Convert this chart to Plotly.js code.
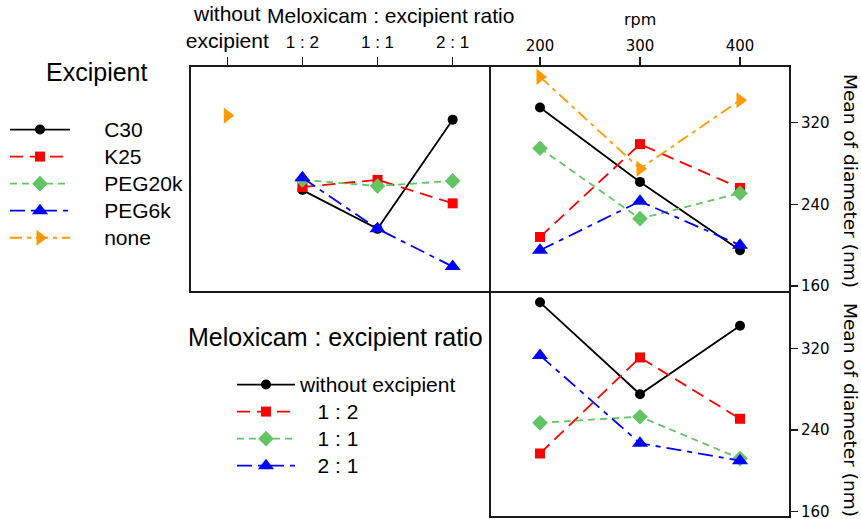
<!DOCTYPE html>
<html><head><meta charset="utf-8">
<script src="https://cdn.plot.ly/plotly-3.0.1.min.js"></script>
<style>html,body{margin:0;padding:0;background:#fff}#chart{width:861px;height:519px}</style>
</head><body><div id="chart"></div>
<script>
// ---- categories / tick labels ----
const ratioCats = ['without excipient', '1 : 2', '1 : 1', '2 : 1'];
const ratioTickText = ['without<br>excipient', '1 : 2', '1 : 1', '2 : 1'];
const rpmVals = [200, 300, 400];
const yTicks = [160, 240, 320];
const excipientNames = ['C30', 'K25', 'PEG20k', 'PEG6k', 'none'];
const ratioNames = ['without excipient', '1 : 2', '1 : 1', '2 : 1'];

// ---- mean diameter (nm) by excipient vs. ratio (top-left) ----
const c30ByRatio = [254, 216, 323];      // 1:2, 1:1, 2:1
const k25ByRatio = [257, 264, 241];
const peg20kByRatio = [264, 258, 263];
const peg6kByRatio = [266, 216, 179];
const noneByRatio = [327];               // without excipient

// ---- mean diameter (nm) by excipient vs. rpm (top-right) ----
const c30ByRpm = [335, 262, 195];
const k25ByRpm = [208, 299, 256];
const peg20kByRpm = [295, 226, 251];
const peg6kByRpm = [195, 243, 200];
const noneByRpm = [365, 275, 342];

// ---- mean diameter (nm) by ratio vs. rpm (bottom-right) ----
const withoutByRpm = [365, 275, 342];
const r12ByRpm = [217, 311, 251];
const r11ByRpm = [247, 253, 212];
const r21ByRpm = [313, 227, 210];

const LW = 1.8;
const sty = [
  {color: '#000000', dash: 'solid',            symbol: 'circle',         size: 10},
  {color: '#ff0000', dash: '13px,7px',         symbol: 'square',         size: 10},
  {color: '#62c462', dash: '7px,5px',          symbol: 'diamond',        size: 12},
  {color: '#0000ff', dash: '15px,6px,5px,6px', symbol: 'triangle-up',    size: 14},
  {color: '#ff9900', dash: '12px,5px,4px,5px', symbol: 'triangle-right', size: 14}
];

const NB = '\u00a0';
function legName(txt, pad) {
  return '<span style="font-size:21px">' + NB.repeat(pad) + txt + '</span>';
}

function tr(name, st, x, y, xa, ya, legend, show, mode) {
  return {
    type: 'scatter', mode: mode || 'lines+markers', name: name, x: x, y: y,
    xaxis: xa, yaxis: ya, legend: legend, showlegend: show,
    line: {color: st.color, width: LW, dash: st.dash},
    marker: {color: st.color, symbol: st.symbol, size: st.size, line: {width: 0}},
    hoverinfo: 'x+y', cliponaxis: false
  };
}

const ratioX = ratioCats.slice(1);
const byRatio = [c30ByRatio, k25ByRatio, peg20kByRatio, peg6kByRatio];
const byRpm = [c30ByRpm, k25ByRpm, peg20kByRpm, peg6kByRpm, noneByRpm];
const ratioByRpm = [withoutByRpm, r12ByRpm, r11ByRpm, r21ByRpm];

const data = [];
byRatio.forEach((v, i) => data.push(tr(legName(excipientNames[i], 5), sty[i], ratioX, v, 'x', 'y', 'legend', true)));
data.push(tr('none', sty[4], [ratioCats[0]], noneByRatio, 'x', 'y', 'legend', false, 'markers'));
byRpm.forEach((v, i) => data.push(tr(legName(excipientNames[i], 5), sty[i], rpmVals, v, 'x2', 'y2', 'legend', i === 4)));
ratioByRpm.forEach((v, i) => data.push(tr(legName(ratioNames[i], i === 0 ? 0 : 3), sty[i], rpmVals, v, 'x3', 'y3', 'legend2', true)));

const AR = 'Liberation Sans, Arial, sans-serif';
const DV = 'DejaVu Sans, Verdana, sans-serif';
const lineC = '#1a1a1a';
const box = {showline: true, mirror: true, linewidth: 2, linecolor: lineC, showgrid: false, zeroline: false, automargin: false};
const W = 861, H = 519;
const px = v => v / W, py = v => 1 - v / H;
const topDom = [py(291), py(66.7)], botDom = [py(515.7), py(293)];
const leftDom = [px(191), px(488.5)], rightDom = [px(490.5), px(789)];
const tickTextStyled = ratioTickText.map((t, i) => i === 0 ? t : '<span style="font-size:17px">' + t + '</span>');
const yTickCommon = {tickvals: yTicks, ticks: 'outside', ticklen: 7, tickwidth: 1.5, tickcolor: lineC,
  tickfont: {family: DV, size: 15, color: '#000'}, ticklabeloverflow: 'allow'};

const layout = {
  width: W, height: H,
  margin: {l: 0, r: 0, t: 0, b: 0},
  paper_bgcolor: '#fff', plot_bgcolor: '#fff',
  showlegend: true,
  xaxis: Object.assign({}, box, {domain: leftDom, anchor: 'y', side: 'top', type: 'category',
    categoryarray: ratioCats, categoryorder: 'array', range: [-0.483, 3.477],
    tickvals: ratioCats, ticktext: tickTextStyled, ticks: 'outside', ticklen: 8, tickwidth: 1.5, tickcolor: lineC,
    tickfont: {family: AR, size: 21, color: '#000'}, ticklabeloverflow: 'allow'}),
  yaxis: Object.assign({}, box, {domain: topDom, anchor: 'x', range: [155.1, 374.9], showticklabels: false, ticks: ''}),
  xaxis2: Object.assign({}, box, {domain: rightDom, anchor: 'y2', side: 'top', range: [150.5, 449],
    tickvals: rpmVals, ticks: 'outside', ticklen: 8, tickwidth: 1.5, tickcolor: lineC,
    tickfont: {family: DV, size: 15, color: '#000'}, ticklabeloverflow: 'allow'}),
  yaxis2: Object.assign({}, box, yTickCommon, {domain: topDom, anchor: 'x2', side: 'right', range: [155.1, 374.9]}),
  xaxis3: Object.assign({}, box, {domain: rightDom, anchor: 'y3', range: [150.5, 449], showticklabels: false, ticks: ''}),
  yaxis3: Object.assign({}, box, yTickCommon, {domain: botDom, anchor: 'x3', side: 'right', range: [156.1, 374.1]}),
  legend: {x: px(5), xanchor: 'left', y: py(111), yanchor: 'top', bgcolor: 'rgba(0,0,0,0)',
    font: {family: AR, size: 18.5, color: '#000'}, itemwidth: 60, tracegroupgap: 0, traceorder: 'normal'},
  legend2: {x: px(232), xanchor: 'left', y: py(366), yanchor: 'top', bgcolor: 'rgba(0,0,0,0)',
    font: {family: AR, size: 18.5, color: '#000'}, itemwidth: 58, tracegroupgap: 0, traceorder: 'normal'},
  annotations: [
    {text: 'Excipient', xref: 'paper', yref: 'paper', x: px(96), y: py(72), showarrow: false,
     xanchor: 'center', yanchor: 'middle', font: {family: AR, size: 25, color: '#000'}},
    {text: 'Meloxicam : excipient ratio', xref: 'paper', yref: 'paper', x: px(335), y: py(337), showarrow: false,
     xanchor: 'center', yanchor: 'middle', font: {family: AR, size: 25, color: '#000'}},
    {text: 'Meloxicam : excipient ratio', xref: 'paper', yref: 'paper', x: px(390), y: py(16), showarrow: false,
     xanchor: 'center', yanchor: 'middle', font: {family: AR, size: 21, color: '#000'}},
    {text: 'rpm', xref: 'paper', yref: 'paper', x: px(640), y: py(19), showarrow: false,
     xanchor: 'center', yanchor: 'middle', font: {family: DV, size: 16, color: '#000'}},
    {text: 'Mean of diameter (nm)', xref: 'paper', yref: 'paper', x: px(851), y: py(181), showarrow: false,
     textangle: 90, xanchor: 'center', yanchor: 'middle', font: {family: DV, size: 18.5, color: '#000'}},
    {text: 'Mean of diameter (nm)', xref: 'paper', yref: 'paper', x: px(851), y: py(410), showarrow: false,
     textangle: 90, xanchor: 'center', yanchor: 'middle', font: {family: DV, size: 18.5, color: '#000'}}
  ]
};

Plotly.newPlot('chart', data, layout, {displayModeBar: false, staticPlot: true});
</script></body></html>
